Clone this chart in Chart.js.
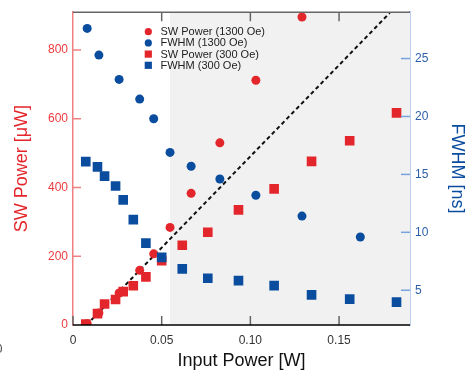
<!DOCTYPE html>
<html>
<head>
<meta charset="utf-8">
<script src="https://cdn.jsdelivr.net/npm/chart.js@4.4.1/dist/chart.umd.min.js"></script>
<style>
  html, body { margin: 0; padding: 0; background: #fff; }
  #wrap { width: 466px; height: 373px; position: relative; }
</style>
</head>
<body>
<div id="wrap"><canvas id="chart"></canvas></div>
<script>
// data
const xs1300 = [0.008, 0.0146, 0.026, 0.0376, 0.0455, 0.0547, 0.0666, 0.0828, 0.1031, 0.1291, 0.162];
const sw1300 = [4, 35, 93, 159, 207, 284, 383, 530, 712, 896, null];
const fwhm1300 = [27.6, 25.3, 23.2, 21.5, 19.8, 16.9, 15.7, 14.6, 13.2, 11.4, 9.6];

const xs300 = [0.0072, 0.0138, 0.0178, 0.024, 0.0283, 0.034, 0.0411, 0.050, 0.0616, 0.076, 0.0933, 0.1134, 0.1345, 0.156, 0.1824];
const sw300 = [3, 33, 61, 74, 97, 114, 140, 187, 232, 270, 335, 396, 476, 536, 617];
const fwhm300 = [16.1, 15.65, 14.85, 14.0, 12.8, 11.1, 9.07, 7.84, 6.84, 6.03, 5.83, 5.4, 4.6, 4.23, 3.97];

const fitX = [0.0076, 0.1786];
const fitY = [0, 908];

const xTicks = [0, 0.05, 0.10, 0.15];
const xTickLabels = ["0", "0.05", "0.10", "0.15"];
const leftTicks = [0, 200, 400, 600, 800];
const rightTicks = [5, 10, 15, 20, 25];
const shadeFrom = 0.0547;

const RED = "#e3262b";
const RED_TXT = "#ec3a3e";
const BLUE = "#0a4c9e";
const BLUE_TXT = "#2c5ea8";
const RED_AXIS = "#f08080";
const BLUE_AXIS = "#78a3df";
const FONT = "'Liberation Sans', Arial, sans-serif";

const pts = (xs, ys) => xs.map((x, i) => ({ x: x, y: ys[i] }));

const datasets = [
  { label: "SW Power (1300 Oe)", data: pts(xs1300, sw1300), yAxisID: "y",
    pointStyle: "circle", pointRadius: 4.5, backgroundColor: RED, order: 2 },
  { label: "FWHM (1300 Oe)", data: pts(xs1300, fwhm1300), yAxisID: "y2",
    pointStyle: "circle", pointRadius: 4.5, backgroundColor: BLUE, order: 2 },
  { label: "SW Power (300 Oe)", data: pts(xs300, sw300), yAxisID: "y",
    pointStyle: "rect", pointRadius: 6.8, backgroundColor: RED, order: 3 },
  { label: "FWHM (300 Oe)", data: pts(xs300, fwhm300), yAxisID: "y2",
    pointStyle: "rect", pointRadius: 6.8, backgroundColor: BLUE, order: 1 },
  { type: "line", label: "fit", data: pts(fitX, fitY), yAxisID: "y",
    borderColor: "#111", borderWidth: 2, borderDash: [4, 3], pointRadius: 0,
    showLine: true, fill: false, order: 4 }
];
datasets.forEach(d => { d.pointBorderWidth = 0; d.pointHoverRadius = d.pointRadius; });

// shaded region, frame, inward ticks, legend and the stray label
const decor = {
  id: "decor",
  beforeDatasetsDraw(chart) {
    const { ctx, chartArea: a, scales } = chart;
    const xs = scales.x.getPixelForValue(shadeFrom);
    ctx.save();
    ctx.fillStyle = "#f1f1f1";
    ctx.fillRect(xs, a.top, a.right - xs, a.bottom - a.top);
    ctx.restore();
  },
  afterDraw(chart) {
    const { ctx, chartArea: a, scales } = chart;
    ctx.save();
    ctx.lineWidth = 1.5;
    // top frame
    ctx.strokeStyle = "#666";
    ctx.beginPath();
    ctx.moveTo(a.left, a.top); ctx.lineTo(a.right, a.top);
    ctx.stroke();
    // inward x ticks (top and bottom)
    xTicks.forEach(v => {
      const px = scales.x.getPixelForValue(v);
      ctx.beginPath();
      ctx.moveTo(px, a.bottom); ctx.lineTo(px, a.bottom - 9);
      if (v > 0) { ctx.moveTo(px, a.top); ctx.lineTo(px, a.top + 9); }
      ctx.stroke();
    });
    // inward left ticks
    ctx.strokeStyle = RED_AXIS;
    leftTicks.forEach(v => {
      if (v === 0) return;
      const py = scales.y.getPixelForValue(v);
      ctx.beginPath();
      ctx.moveTo(a.left, py); ctx.lineTo(a.left + 8, py);
      ctx.stroke();
    });
    // inward right ticks
    ctx.strokeStyle = BLUE_AXIS;
    rightTicks.forEach(v => {
      const py = scales.y2.getPixelForValue(v);
      ctx.beginPath();
      ctx.moveTo(a.right, py); ctx.lineTo(a.right - 9, py);
      ctx.stroke();
    });
    // bottom axis line
    ctx.strokeStyle = "#000";
    ctx.beginPath();
    ctx.moveTo(a.left, a.bottom); ctx.lineTo(a.right, a.bottom);
    ctx.stroke();

    // legend inside the plot
    ctx.font = "11px " + FONT;
    ctx.textBaseline = "middle";
    ctx.textAlign = "left";
    [0, 1, 2, 3].forEach((k, i) => {
      const d = chart.data.datasets[k];
      const y = 31.7 + i * 11.2;
      const x = 148.3;
      ctx.fillStyle = d.backgroundColor;
      if (d.pointStyle === "circle") {
        ctx.beginPath(); ctx.arc(x, y, 3.6, 0, Math.PI * 2); ctx.fill();
      } else {
        ctx.fillRect(x - 3.6, y - 3.6, 7.2, 7.2);
      }
      ctx.fillStyle = "#222";
      ctx.fillText(d.label, 160.5, y + 0.5);
    });

    // clipped label at the left edge
    ctx.font = "12px " + FONT;
    ctx.fillStyle = "#444";
    ctx.textAlign = "center";
    ctx.fillText("0", -1, 350);
    ctx.restore();
  }
};

new Chart(document.getElementById("chart"), {
  type: "scatter",
  data: { datasets: datasets },
  options: {
    responsive: true,
    maintainAspectRatio: false,
    animation: false,
    layout: { padding: { top: 11, left: 0, right: 0, bottom: 0 } },
    plugins: { legend: { display: false }, tooltip: { enabled: false } },
    scales: {
      x: {
        type: "linear", min: 0, max: 0.19,
        afterFit: s => { s.height = 48; },
        afterBuildTicks: s => { s.ticks = xTicks.map(v => ({ value: v })); },
        grid: { display: false, drawTicks: false },
        border: { display: false },
        ticks: {
          color: "#333", padding: 8, maxRotation: 0,
          font: { family: FONT, size: 12 },
          callback: (v) => xTickLabels[xTicks.indexOf(v)]
        },
        title: { display: true, text: "Input Power [W]", color: "#111",
          font: { family: FONT, size: 18, lineHeight: 1.0 }, padding: { top: 0, bottom: 3 } }
      },
      y: {
        type: "linear", position: "left", min: 0, max: 910,
        afterFit: s => { s.width = 73; },
        afterBuildTicks: s => { s.ticks = leftTicks.map(v => ({ value: v })); },
        grid: { display: false, drawTicks: false },
        border: { display: true, color: RED_AXIS, width: 1.5 },
        ticks: { color: RED_TXT, padding: 5, font: { family: FONT, size: 12 } },
        title: { display: true, text: "SW Power [μW]", color: RED,
          font: { family: FONT, size: 18, lineHeight: 1.0 }, padding: { top: 13, bottom: 0 } }
      },
      y2: {
        type: "linear", position: "right", min: 2, max: 29,
        afterFit: s => { s.width = 56; },
        afterBuildTicks: s => { s.ticks = rightTicks.map(v => ({ value: v })); },
        grid: { display: false, drawTicks: false },
        border: { display: true, color: BLUE_AXIS, width: 1.5 },
        ticks: { color: BLUE_TXT, padding: 5, font: { family: FONT, size: 12 } },
        title: { display: true, text: "FWHM [ns]", color: BLUE,
          font: { family: FONT, size: 18, lineHeight: 1.0 }, padding: { top: 0, bottom: 0 } }
      }
    }
  },
  plugins: [decor]
});
</script>
</body>
</html>
